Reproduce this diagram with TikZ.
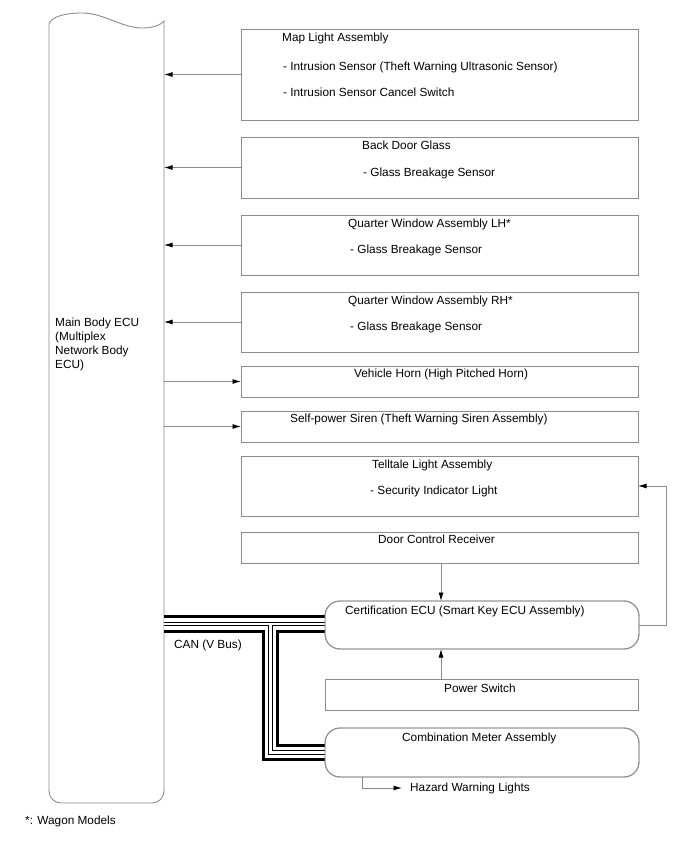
\documentclass[tikz,border=0pt]{standalone}
\usepackage{fontspec}
\setmainfont{Liberation Sans}
\usetikzlibrary{arrows.meta,calc}
\definecolor{lngray}{HTML}{8C8C8C}
\begin{document}
\begin{tikzpicture}[x=1pt,y=-1pt,
  box/.style={draw=lngray,line width=0.9pt,inner sep=0pt,outer sep=0pt,minimum width=397pt},
  rbox/.style={box,rounded corners=15pt,minimum width=314pt},
  txt/.style={anchor=base west,inner sep=0pt,font=\fontsize{11.8}{14}\selectfont},
  ln/.style={draw=lngray,line width=0.9pt},
  arr/.style={draw=lngray,line width=0.9pt,-{Latex[length=8.5pt,width=5pt,color=black]}},
]
\fill[white] (0,0) rectangle (688,852);
\useasboundingbox (0,0) rectangle (688,852);

% main body ECU
\draw[ln] (49,24) .. controls (52,16) and (66,13) .. (82,13)
  .. controls (104,13) and (122,28) .. (142,28)
  .. controls (153,28) and (161,25) .. (164,21)
  -- (164,791) .. controls (164,797.6) and (158.6,803) .. (152,803)
  -- (61,803) .. controls (54.4,803) and (49,797.6) .. (49,791) -- cycle;
\coordinate (ecuR) at (164,0);
\node[txt,anchor=north west,align=left] (ecutext) at (55,317.5)
  {Main Body ECU\\(Multiplex\\Network Body\\ECU)};

% CAN bus
\node[rbox,minimum height=48pt] (cert) at (482,625) {};
\node[rbox,minimum height=49pt] (combo) at (482,752.5) {};
\coordinate (busS) at (164,624);
\coordinate (busJ) at (270.5,624);
\foreach \w/\c in {17.5/black,11.3/white,4.5/black,2.2/white}{
  \draw[line width=\w pt,\c] (busS) -- (busS -| cert.west);
  \draw[line width=\w pt,\c,line join=miter] (busJ) |- (combo.west);
}
\node[rbox,minimum height=48pt] at (cert) {};
\node[rbox,minimum height=49pt] at (combo) {};

% right-hand boxes
\node[box,minimum height=91pt] (map) at (439.5,74.5) {};
\node[box,minimum height=61pt] (back) at (439.5,167.5) {};
\node[box,minimum height=60pt] (qlh) at (439.5,245) {};
\node[box,minimum height=60pt] (qrh) at (439.5,322) {};
\node[box,minimum height=31pt] (horn) at (439.5,381.5) {};
\node[box,minimum height=31pt] (siren) at (439.5,426.5) {};
\node[box,minimum height=60pt] (tell) at (439.5,486) {};
\node[box,minimum height=31pt] (door) at (439.5,547.5) {};
\node[box,minimum height=31pt,minimum width=313pt] (pow) at (481.5,694.5) {};

% texts
\node[txt] (t1) at (282,41) {Map Light Assembly};
\node[txt] (t2) at (283,70) {- Intrusion Sensor (Theft Warning Ultrasonic Sensor)};
\node[txt] (t3) at (283,96) {- Intrusion Sensor Cancel Switch};
\node[txt] (t4) at (362,149) {Back Door Glass};
\node[txt] (t5) at (363,176) {- Glass Breakage Sensor};
\node[txt] (t6) at (348,227) {Quarter Window Assembly LH*};
\node[txt] (t7) at (350,253) {- Glass Breakage Sensor};
\node[txt] (t8) at (348,304) {Quarter Window Assembly RH*};
\node[txt] (t9) at (350,330) {- Glass Breakage Sensor};
\node[txt] (t10) at (354,377) {Vehicle Horn (High Pitched Horn)};
\node[txt] (t11) at (290,422) {Self-power Siren (Theft Warning Siren Assembly)};
\node[txt] (t12) at (372,468) {Telltale Light Assembly};
\node[txt] (t13) at (370,494) {- Security Indicator Light};
\node[txt] (t14) at (378,543) {Door Control Receiver};
\node[txt] (t15) at (345,614) {Certification ECU (Smart Key ECU Assembly)};
\node[txt] (t16) at (444,692) {Power Switch};
\node[txt] (t17) at (402,741) {Combination Meter Assembly};
\node[txt,anchor=west] (hz) at (410,788) {Hazard Warning Lights};
\node[txt] (can) at (174,648) {CAN (V Bus)};
\node[txt] (wagon) at (25,824) {*: Wagon Models};

% connectors
\draw[arr] (map.west) -- (map.west -| ecuR);
\draw[arr] (back.west) -- (back.west -| ecuR);
\draw[arr] (qlh.west) -- (qlh.west -| ecuR);
\draw[arr] (qrh.west) -- (qrh.west -| ecuR);
\draw[arr] (horn.west -| ecuR) -- (horn.west);
\draw[arr] (siren.west -| ecuR) -- (siren.west);
\coordinate (rc) at (666,0);
\draw[arr] (cert.east) -| (rc |- tell.east) -- (tell.east);
\draw[arr] ([xshift=1.5pt]door.south) -- ([xshift=1.5pt]door.south |- cert.north);
\draw[arr] ([xshift=1.5pt]door.south |- pow.north) -- ([xshift=1.5pt]door.south |- cert.south);
\coordinate (hzs) at (362,0);
\draw[arr] (hzs |- combo.south) |- ([xshift=-8pt]hz.west);
\end{tikzpicture}
\end{document}
